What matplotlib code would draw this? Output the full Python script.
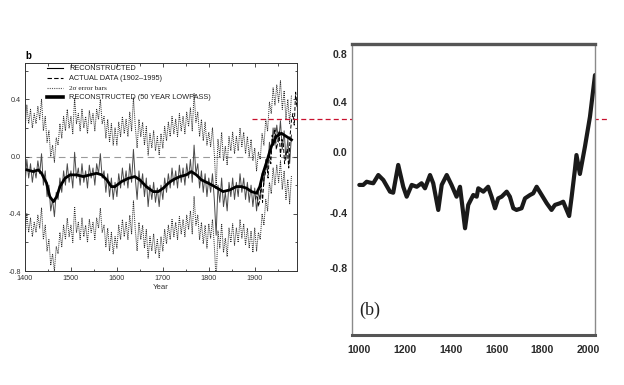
import numpy as np
import matplotlib
matplotlib.use("Agg")
import matplotlib.pyplot as plt
from matplotlib.lines import Line2D
from matplotlib.ticker import MultipleLocator, FormatStrFormatter

# ---------------- data: left panel (MBH99-style reconstruction) ----------------
RECON_START = 1400
RECON_STEP = 4
recon_1400s = [-0.20, -0.02, -0.15, -0.05, -0.18, -0.08, -0.15, -0.03, -0.12, 0.02, -0.20, -0.10, -0.28,
               -0.20, -0.38, -0.30, -0.42, -0.25, -0.30, -0.15, -0.25, -0.10, -0.20, -0.05, -0.18]
recon_1500s = [-0.10, -0.22, 0.03, -0.15, -0.08, -0.20, -0.05, -0.18, -0.10, -0.22, -0.06, -0.15, -0.08,
               -0.20, -0.05, -0.12, 0.02, -0.15, -0.10, -0.25, -0.12, -0.28, -0.15, -0.30, -0.18]
recon_1600s = [-0.28, -0.12, -0.22, -0.08, -0.20, -0.10, -0.22, -0.05, -0.18, 0.05, -0.15, -0.30, -0.10,
               -0.22, -0.12, -0.28, -0.15, -0.35, -0.20, -0.30, -0.18, -0.32, -0.22, -0.35, -0.20]
recon_1700s = [-0.30, -0.15, -0.25, -0.12, -0.22, -0.08, -0.20, -0.10, -0.22, -0.06, -0.18, -0.08, -0.20,
               -0.05, -0.15, -0.02, -0.18, 0.08, -0.12, -0.05, -0.22, -0.10, -0.25, -0.12, -0.28]
recon_1800s = [-0.15, -0.25, -0.12, -0.30, -0.55, -0.20, -0.32, -0.15, -0.35, -0.25, -0.38, -0.18, -0.28,
               -0.15, -0.30, -0.18, -0.28, -0.12, -0.25, -0.15, -0.30, -0.18, -0.32, -0.20, -0.35]
recon_1900s = [-0.22, -0.38, -0.25, -0.30, -0.12, -0.20, -0.02, -0.10, 0.10, 0.02, 0.20, 0.08, 0.22,
               0.10, 0.25, 0.05, 0.18, -0.02, 0.12, -0.05, 0.15]

# 2-sigma half width, by period (start year of each period)
err_period_start = [1400, 1600, 1800, 1900]
err_halfwidth = [0.38, 0.36, 0.32, 0.28]

lowpass_years = [1404, 1418, 1429, 1436, 1447, 1454, 1462, 1469, 1476, 1487, 1498, 1512, 1527, 1541,
                 1556, 1567, 1578, 1588, 1596, 1610, 1625, 1639, 1650, 1664, 1679, 1690, 1701, 1712,
                 1722, 1737, 1751, 1762, 1773, 1784, 1799, 1813, 1831, 1846, 1860, 1871, 1882, 1893,
                 1904, 1911, 1918, 1925, 1936, 1947, 1958, 1969, 1980]
lowpass_vals = [-0.093, -0.105, -0.093, -0.117, -0.186, -0.280, -0.315, -0.280, -0.210, -0.152, -0.128,
                -0.128, -0.140, -0.128, -0.117, -0.128, -0.163, -0.210, -0.210, -0.175, -0.152, -0.140,
                -0.163, -0.210, -0.245, -0.245, -0.221, -0.186, -0.163, -0.140, -0.128, -0.105, -0.128,
                -0.163, -0.186, -0.210, -0.245, -0.233, -0.210, -0.210, -0.221, -0.245, -0.256, -0.210,
                -0.117, -0.047, 0.070, 0.140, 0.163, 0.140, 0.117]

actual_years = [1902, 1905, 1908, 1911, 1914, 1917, 1920, 1923, 1926, 1929, 1932, 1935, 1938, 1941, 1944,
                1947, 1950, 1953, 1956, 1959, 1962, 1965, 1968, 1971, 1974, 1977, 1980, 1983, 1986, 1989,
                1992, 1995]
actual_vals = [-0.30, -0.25, -0.35, -0.30, -0.18, -0.32, -0.15, -0.12, -0.05, -0.15, 0.02, -0.05, 0.15,
               0.08, 0.20, 0.05, 0.10, 0.18, 0.00, 0.12, 0.10, -0.05, 0.02, 0.05, -0.08, 0.15, 0.25,
               0.30, 0.22, 0.45, 0.35, 0.55]

left_xticks = [1400, 1500, 1600, 1700, 1800, 1900]
left_yticks = [-0.8, -0.4, 0.0, 0.4]
red_level = 0.26

legend_labels = ["RECONSTRUCTED", "ACTUAL DATA (1902\u20131995)", "2\u03c3 error bars",
                 "RECONSTRUCTED (50 YEAR LOWPASS)"]

# ---------------- data: right panel (smoothed curve) ----------------
right_years = [1000, 1017, 1032, 1047, 1061, 1083, 1105, 1134, 1148, 1170, 1192, 1207, 1229, 1251, 1272,
               1287, 1309, 1323, 1345, 1360, 1382, 1403, 1425, 1440, 1462, 1476, 1498, 1513, 1520, 1542,
               1563, 1578, 1593, 1607, 1622, 1644, 1658, 1673, 1687, 1709, 1724, 1746, 1760, 1775, 1797,
               1819, 1840, 1855, 1877, 1891, 1906, 1917, 1928, 1942, 1949, 1964, 1986, 2008, 2030]
right_vals = [-0.216, -0.216, -0.195, -0.201, -0.205, -0.151, -0.184, -0.260, -0.267, -0.085, -0.228,
              -0.293, -0.216, -0.228, -0.205, -0.238, -0.151, -0.205, -0.380, -0.216, -0.151, -0.216,
              -0.293, -0.228, -0.511, -0.347, -0.282, -0.293, -0.238, -0.260, -0.228, -0.293, -0.369,
              -0.304, -0.293, -0.260, -0.293, -0.369, -0.380, -0.369, -0.304, -0.282, -0.271, -0.228,
              -0.282, -0.336, -0.380, -0.347, -0.336, -0.326, -0.380, -0.422, -0.293, -0.118, -0.020,
              -0.144, 0.042, 0.282, 0.624]
right_xticks = [1000, 1200, 1400, 1600, 1800, 2000]
right_yticks = [-0.8, -0.4, 0.0, 0.4, 0.8]
right_yticklabels = ["-0.8", "-0.4", "0.0", "0.4", "0.8"]

# uneven printed vertical scale of the right figure (value -> relative height)
SCALE_VALUES = np.array([-1.6, -0.8, -0.4, 0.0, 0.4, 0.8, 1.2])
SCALE_HEIGHT = np.array([0.0, 110.0, 165.0, 226.0, 276.0, 324.0, 372.0])


def fwd(y):
    return np.interp(y, SCALE_VALUES, SCALE_HEIGHT)


def inv(u):
    return np.interp(u, SCALE_HEIGHT, SCALE_VALUES)


# ---------------- figure ----------------
W, H = 624, 385
fig = plt.figure(figsize=(W / 100, H / 100), dpi=100)
fig.patch.set_facecolor("white")

sans = ["Liberation Sans", "DejaVu Sans"]
narrow = ["Liberation Sans Narrow", "Liberation Sans", "DejaVu Sans"]

# ---- left axes ----
axL = fig.add_axes([25 / W, (H - 271) / H, 272 / W, 208 / H])
recon = np.array(recon_1400s + recon_1500s + recon_1600s + recon_1700s + recon_1800s + recon_1900s)
years = RECON_START + RECON_STEP * np.arange(len(recon))
idx = np.searchsorted(err_period_start, years, side="right") - 1
err = np.array(err_halfwidth)[idx]

axL.axhline(0.0, color="#9a9a9a", lw=0.8, dashes=(6, 4), zorder=1)
axL.plot(years, recon + err, color="#2a2a2a", lw=0.7, ls=(0, (1, 1)), zorder=2)
axL.plot(years, recon - err, color="#2a2a2a", lw=0.7, ls=(0, (1, 1)), zorder=2)
axL.plot(years, recon, color="#4a4a4a", lw=0.7, zorder=3)
axL.plot(actual_years, actual_vals, color="black", lw=0.7, dashes=(4, 2), zorder=3)
axL.plot(lowpass_years, lowpass_vals, color="black", lw=2.0, zorder=4)

axL.set_xlim(1400, 1992)
axL.set_ylim(-0.8, 0.654)
axL.set_xticks(left_xticks)
axL.set_yticks(left_yticks)
axL.xaxis.set_minor_locator(MultipleLocator(50))
axL.yaxis.set_minor_locator(MultipleLocator(0.2))
axL.yaxis.set_major_formatter(FormatStrFormatter("%.1f"))
axL.tick_params(which="both", direction="in", top=True, right=True, colors="#333333",
                labelsize=5.2, width=0.6)
axL.tick_params(which="major", length=3)
axL.tick_params(axis="x", which="major", pad=3)
axL.tick_params(axis="y", which="major", pad=3)
axL.tick_params(which="minor", length=1.8)
for lab in axL.get_xticklabels() + axL.get_yticklabels():
    lab.set_family(sans)
for sp in axL.spines.values():
    sp.set_color("#333333")
    sp.set_linewidth(0.7)
axL.set_xlabel("Year", fontsize=5.6, family=sans, color="#333333", labelpad=1)
axL.text(0.0, 1.034, "b", transform=axL.transAxes, fontsize=7, fontweight="bold",
         family=sans, ha="left", va="center")

handles = [Line2D([], [], color="black", lw=0.8),
           Line2D([], [], color="black", lw=0.8, dashes=(4, 2)),
           Line2D([], [], color="#555555", lw=0.8, ls=(0, (1, 1))),
           Line2D([], [], color="black", lw=2.6)]
leg = axL.legend(handles, legend_labels, loc="upper left", bbox_to_anchor=(0.082, 0.99),
                 frameon=False, handlelength=2.1, handletextpad=0.9,
                 labelspacing=0.38, borderpad=0, borderaxespad=0, prop={"family": sans, "size": 5.3})
for t in leg.get_texts():
    t.set_color("#222222")
leg.get_texts()[2].set_family(["Liberation Serif", "DejaVu Serif"])

# red dashed line running across both panels
axL.plot([1893, 2667], [red_level, red_level], color="#c8102e", lw=0.9, dashes=(4, 2.5),
         clip_on=False, zorder=10)

# ---- right axes ----
axR = fig.add_axes([352 / W, (H - 335) / H, 243 / W, 291 / H])
axR.set_yscale("function", functions=(fwd, inv))
axR.plot(right_years, right_vals, color="#1a1a1a", lw=3.0, solid_capstyle="round",
         solid_joinstyle="round")
axR.set_xlim(968, 2030)
axR.set_ylim(-1.287, 0.883)
axR.set_xticks(right_xticks)
axR.set_yticks(right_yticks)
axR.set_yticklabels(right_yticklabels)
axR.tick_params(axis="both", length=0, colors="#2a2a2a", labelsize=7.6)
axR.tick_params(axis="x", pad=7)
axR.tick_params(axis="y", pad=3)
for lab in axR.get_xticklabels() + axR.get_yticklabels():
    lab.set_family(narrow)
    lab.set_fontweight("bold")
axR.spines["top"].set_color("#555555")
axR.spines["top"].set_linewidth(2.4)
axR.spines["bottom"].set_color("#555555")
axR.spines["bottom"].set_linewidth(2.2)
axR.spines["left"].set_color("#8a8a8a")
axR.spines["left"].set_linewidth(1.0)
axR.spines["right"].set_color("#8a8a8a")
axR.spines["right"].set_linewidth(1.0)
axR.text(0.03, 0.086, "(b)", transform=axR.transAxes, fontsize=13,
         family=["Liberation Serif", "DejaVu Serif"], color="#222222", ha="left", va="center")

fig.savefig("out.png", dpi=100, facecolor="white")
